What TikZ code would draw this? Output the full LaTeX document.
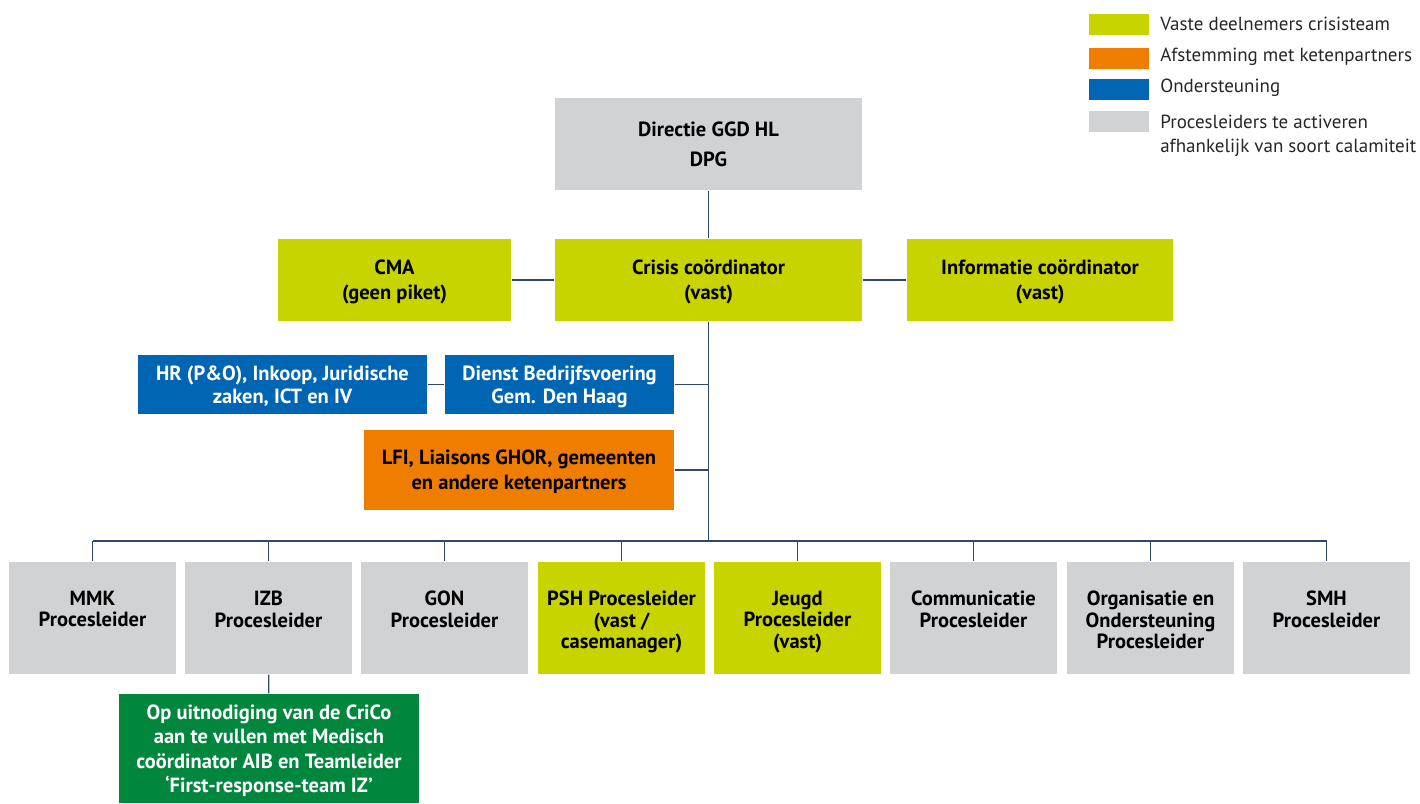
\documentclass[tikz,border=0pt]{standalone}
\usepackage{fontspec}
\setmainfont{PT Sans}
\usetikzlibrary{positioning}

\definecolor{vastgroen}{HTML}{C8D400}
\definecolor{keten}{HTML}{EE7D00}
\definecolor{steun}{HTML}{0066B3}
\definecolor{proces}{HTML}{D1D2D4}
\definecolor{crico}{HTML}{00873D}
\definecolor{lijn}{HTML}{2D4A6A}

\begin{document}
\begin{tikzpicture}[x=1pt,y=-1pt,line width=1.3pt]
  \tikzstyle{every node}=[inner sep=0pt,align=center]
  \tikzstyle{doos}=[rectangle,text depth=0pt,font=\bfseries\fontsize{20.5}{25}\selectfont]
  \tikzstyle{laag}=[text depth=-6pt]
  \tikzstyle{onder}=[rectangle,minimum width=167,minimum height=112]
  \tikzstyle{tekst}=[font=\bfseries\fontsize{20.5}{21.5}\selectfont]
  \tikzstyle{leg}=[rectangle,minimum width=60,minimum height=21]
  \tikzstyle{legtekst}=[align=left,text=black!85,font=\fontsize{19}{24}\selectfont]
  \tikzstyle{verbind}=[draw=lijn]

  \useasboundingbox (0,0) rectangle (1420,803);

  % legenda
  \node[leg,fill=vastgroen] (lvast)   at (1119,24.5)  {};
  \node[leg,fill=keten]     (lketen)  at (1119,58)    {};
  \node[leg,fill=steun]     (lsteun)  at (1119,89.5)  {};
  \node[leg,fill=proces]    (lproces) at (1119,121.5) {};
  \node[legtekst,anchor=west,right=10pt of lvast,yshift=1pt]    (tvast)  {Vaste deelnemers crisisteam};
  \node[legtekst,anchor=west,right=10pt of lketen,yshift=1.5pt] (tketen) {Afstemming met ketenpartners};
  \node[legtekst,anchor=west,right=10pt of lsteun,yshift=1.5pt] (tsteun) {Ondersteuning};
  \node[legtekst,anchor=north west] (tproces) at ([xshift=10pt,yshift=-4pt]lproces.north east)
       {Procesleiders te activeren\\afhankelijk van soort calamiteit};

  % top
  \node[doos,laag,fill=proces,minimum width=307,minimum height=92,
        font=\bfseries\fontsize{20.5}{30}\selectfont] (dir) at (708.5,144) {Directie GGD HL\\DPG};
  \node[doos,laag,fill=vastgroen,minimum width=307,minimum height=82] (crisis) at (708.5,280)
       {Crisis coördinator\\(vast)};
  \node[doos,laag,fill=vastgroen,minimum width=233,minimum height=82] (cma) at (394.5,280)
       {CMA\\(geen piket)};
  \node[doos,laag,fill=vastgroen,minimum width=266,minimum height=82] (info) at (1040,280)
       {Informatie coördinator\\(vast)};

  % ondersteuning en ketenpartners
  \node[doos,fill=steun,text=white,minimum width=289,minimum height=59,
        font=\bfseries\fontsize{20.5}{23.5}\selectfont] (hr) at (282.5,384.5)
       {HR (P\&O), Inkoop, Juridische\\zaken, ICT en IV};
  \node[doos,fill=steun,text=white,minimum width=229,minimum height=59,
        font=\bfseries\fontsize{20.5}{23.5}\selectfont] (dienst) at (559.5,384.5)
       {Dienst Bedrijfsvoering\\Gem. Den Haag};
  \node[doos,fill=keten,minimum width=310,minimum height=80] (lfi) at (519,470)
       {LFI, Liaisons GHOR, gemeenten\\en andere ketenpartners};

  % procesleiders
  \node[onder,fill=proces]    (mmk)   at (92.5,618)   {};
  \node[onder,fill=proces]    (izb)   at (268.5,618)  {};
  \node[onder,fill=proces]    (gon)   at (444.5,618)  {};
  \node[onder,fill=vastgroen] (psh)   at (621.5,618)  {};
  \node[onder,fill=vastgroen] (jeugd) at (797.5,618)  {};
  \node[onder,fill=proces]    (comm)  at (973.5,618)  {};
  \node[onder,fill=proces]    (org)   at (1150.5,618) {};
  \node[onder,fill=proces]    (smh)   at (1326.5,618) {};

  \node[tekst,below=29pt of mmk.north]   (mmkt)   {MMK\\Procesleider};
  \node[tekst,below=29pt of izb.north]   (izbt)   {IZB\\Procesleider};
  \node[tekst,below=29pt of gon.north]   (gont)   {GON\\Procesleider};
  \node[tekst,below=29pt of psh.north]   (psht)   {PSH Procesleider\\(vast /\\casemanager)};
  \node[tekst,below=29pt of jeugd.north] (jeugdt) {Jeugd\\Procesleider\\(vast)};
  \node[tekst,below=29pt of comm.north]  (commt)  {Communicatie\\Procesleider};
  \node[tekst,below=29pt of org.north]   (orgt)   {Organisatie en\\Ondersteuning\\Procesleider};
  \node[tekst,below=29pt of smh.north]   (smht)   {SMH\\Procesleider};

  \node[doos,laag,fill=crico,text=white,minimum width=300,minimum height=109,
        font=\bfseries\fontsize{20.5}{24.5}\selectfont] (ff) at (269,748.5)
       {Op uitnodiging van de CriCo\\aan te vullen met Medisch\\coördinator AIB en Teamleider\\‘First-response-team IZ’};

  % verbindingen
  \coordinate (bus) at (708.5,541);
  \draw[verbind] (dir) -- (crisis);
  \draw[verbind] (cma) -- (crisis);
  \draw[verbind] (crisis) -- (info);
  \draw[verbind] (crisis) -- (bus);
  \draw[verbind] (hr) -- (dienst);
  \draw[verbind] (dienst.east) -- (dienst.east -| bus);
  \draw[verbind] (lfi.east) -- (lfi.east -| bus);
  \draw[verbind] (mmk.north |- bus) -- (smh.north |- bus);
  \draw[verbind] (mmk.north |- bus) -- (mmk);
  \draw[verbind] (izb.north |- bus) -- (izb);
  \draw[verbind] (gon.north |- bus) -- (gon);
  \draw[verbind] (psh.north |- bus) -- (psh);
  \draw[verbind] (jeugd.north |- bus) -- (jeugd);
  \draw[verbind] (comm.north |- bus) -- (comm);
  \draw[verbind] (org.north |- bus) -- (org);
  \draw[verbind] (smh.north |- bus) -- (smh);
  \draw[verbind] (izb) -- (ff);
\end{tikzpicture}
\end{document}
